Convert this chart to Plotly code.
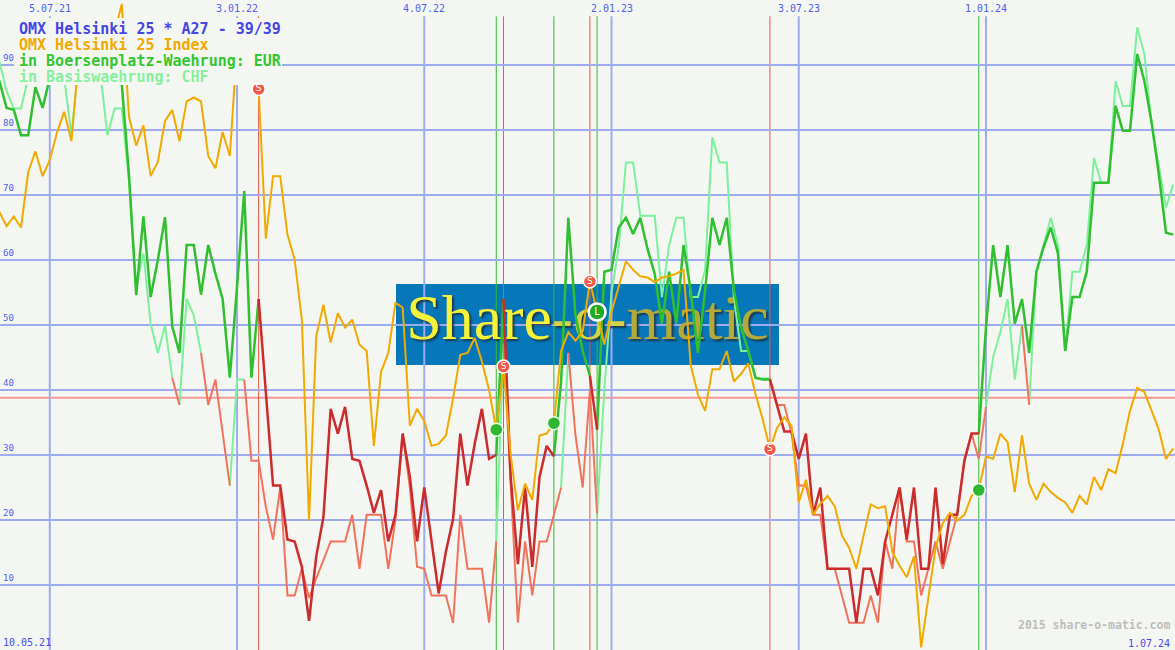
import pandas as pd
import plotly.graph_objects as go

# ---------------- data (weekly, first point 10.05.21) ----------------
START = "2021-05-10"
N_WEEKS = 165

ORANGE = [69, 67.4, 65.2, 66.7, 65.0, 73.5, 76.7, 72.9, 75.4, 79.6,
          82.8, 78.3, 91, 90, 92, 90, 93, 95, 99.4, 82,
          77.6, 80.7, 72.9, 75.1, 81.4, 83.1, 78.3, 84.4, 85, 84.4,
          76, 74.1, 79.7, 76, 93, 90, 88, 86.3, 63.3, 72.9,
          72.9, 63.9, 60.1, 50.8, 19.9, 48.3, 53.1, 47.3, 51.8, 49.6,
          50.8, 47.0, 46.0, 31.4, 42.8, 45.7, 53.4, 52.7, 34.5, 37.1,
          35.2, 31.4, 31.7, 33, 38.7, 45.4, 45.7, 48, 44.4, 40,
          33.9, 43.6, 30, 21.5, 25.6, 23.1, 33, 33.3, 34.9, 46,
          48.9, 47.6, 49, 56.7, 52, 47, 52, 56, 59.8, 58.5,
          57.5, 57.3, 56.6, 57.3, 57.5, 57.9, 58.5, 43.8, 39.3, 36.8,
          43.2, 43.2, 46, 41.3, 42.5, 44.1, 39.3, 35.5, 30.9, 34.2,
          35.8, 34.5, 22.7, 26.2, 20.8, 22.5, 23.7, 22.1, 17.6, 15.7,
          12.5, 17.6, 22.4, 21.8, 22.1, 15.1, 13, 11.2, 14.4, 0.4,
          8, 15.7, 19.5, 21.1, 19.9, 20.8, 23.7, 24.6, 29.8, 29.4,
          33.3, 32, 24.3, 33, 25.6, 23.1, 25.6, 24.3, 23.4, 22.7,
          21.1, 23.7, 22.4, 26.6, 24.6, 27.8, 27.2, 31.7, 36.8, 40.3,
          39.7, 36.8, 33.9, 29.4, 31]

EUR = [90, 87.5, 83.4, 83.1, 79.2, 79.2, 86.6, 83.4, 88, 91,
       89, 92, 90, 93, 91, 89, 92, 90, 87, 73,
       54.6, 66.7, 54.3, 60, 66.6, 49.8, 45.7, 62.3, 62.3, 54.7,
       62.3, 57.9, 54, 41.9, 55.9, 70.6, 41.9, 54, 40, 25.3,
       25.3, 17, 16.7, 12.8, 4.5, 14.4, 20.5, 37.1, 33.3, 37.4,
       29.4, 29.1, 25.3, 21.1, 24.6, 16.7, 20.8, 33.3, 26.6, 16.7,
       25, 16.7, 8.7, 15.1, 20.2, 33.3, 25.3, 31.7, 37.1, 29.4,
       30, 54, 26.6, 13.2, 25, 12.8, 26.6, 31.4, 29.8, 41.3,
       66.5, 51.5, 46, 42.2, 33.9, 58.2, 58.5, 65, 66.5, 64,
       66.5, 61.7, 57.9, 50.2, 58.2, 50.2, 62.3, 55.3, 45.7, 55.3,
       66.5, 62.3, 66.5, 55.3, 49.6, 46, 41.9, 41.6, 41.6, 37.7,
       33.6, 33.6, 29.4, 33.3, 20.8, 25, 12.5, 12.5, 12.5, 12.5,
       4.2, 12.5, 12.5, 8.4, 16.7, 20.8, 25, 17, 25, 12.5,
       12.5, 25, 13.2, 20.8, 20.8, 29.1, 33.3, 33.3, 49.6, 62.3,
       54.3, 62.3, 50.2, 54, 45.7, 58.2, 62, 65, 61, 46,
       54.3, 54.3, 58.2, 71.9, 71.9, 71.9, 83.7, 79.9, 79.9, 91.7,
       87.5, 81.2, 73.2, 64.2, 63.9]

CHF = [95, 90.4, 86, 83.3, 83.3, 88, 91, 92, 90, 91,
       88, 79.2, 90, 92, 91, 89, 79.2, 83.3, 83.3, 72,
       56, 61, 50.2, 45.7, 49.9, 41.9, 37.7, 54, 51.5, 45.7,
       37.7, 41.6, 33, 25.3, 41.6, 41.6, 29.1, 29.1, 22, 17,
       25, 8.4, 8.4, 12.5, 8, 11, 14, 16.7, 16.7, 16.7,
       20.8, 12.5, 20.8, 20.8, 20.8, 12.5, 20, 33.3, 25, 12.8,
       12.5, 8.4, 8.4, 8.4, 4.2, 20.8, 12.5, 12.5, 12.5, 4.2,
       16.7, 47, 25, 4.2, 16.7, 8.4, 16.7, 16.7, 20.8, 25,
       45.7, 33, 25, 40, 21, 40, 55, 62, 75, 75,
       66.8, 66.8, 66.8, 54.3, 62.3, 66.5, 66.5, 54.3, 54.3, 58.5,
       78.9, 75, 75, 54, 46, 46, 41.8, 41.8, 41.8, 37.7,
       37.7, 33.3, 25.3, 25.3, 20.8, 20.8, 12.5, 12.5, 8.4, 4.2,
       4.2, 4.2, 8.4, 4.2, 16.7, 12.5, 25, 16.7, 16.7, 8.4,
       12.5, 16.7, 12.5, 16.7, 20.8, 29.1, 33.3, 29.4, 37.4, 45.1,
       48.9, 54, 41.6, 49.9, 37.7, 58.2, 62.3, 66.5, 62.3, 46,
       58.2, 58.2, 62.3, 75.7, 71.9, 71.9, 87.5, 83.7, 83.7, 95.8,
       91.7, 80.8, 74.5, 68.1, 71.6]

# short (red) periods as week-index intervals [a, b): segment i->i+1 red if a <= i < b
EUR_SHORT = [(37, 70), (71, 78), (83, 84), (108, 137)]
CHF_SHORT = [(25, 26), (29, 33), (35, 70), (71, 79), (80, 84), (108, 138), (143, 144)]

# signals (week index)
SELL_IDX = [37, 71, 83, 108]
BUY_IDX = [70, 78, 137]
BUY_CHF_IDX = [84]

THRESHOLD = 38.8

GRID_DATES = ["2021-07-05", "2022-01-03", "2022-07-04", "2023-01-02", "2023-07-03", "2024-01-01"]
GRID_LABELS = ["5.07.21", "3.01.22", "4.07.22", "2.01.23", "3.07.23", "1.01.24"]
Y_TICKS = [10, 20, 30, 40, 50, 60, 70, 80, 90]
X_RANGE = ["2021-05-17 14:00", "2024-07-02 18:00"]

LEGEND_LINES = ["OMX Helsinki 25 * A27 - 39/39", "OMX Helsinki 25 Index",
                "in Boersenplatz-Waehrung: EUR", "in Basiswaehrung: CHF"]

# ---------------- styling ----------------
BG = "#f4f6f2"
GRID = "#9fabf0"
C_BLUE = "#4646e6"
C_ORANGE = "#f2a900"
C_GREEN = "#2fbf2f"
C_DRED = "#cc2b2b"
C_LGREEN = "#7cf09a"
C_SALMON = "#f2735c"
C_SIG_RED = "#ee5544"
C_SIG_GREEN = "#33bb33"
MONO = "DejaVu Sans Mono"

dates = list(pd.date_range(START, periods=N_WEEKS, freq="7D"))


def split_runs(vals, short):
    red = [any(a <= i < b for a, b in short) for i in range(len(vals) - 1)]
    out = {True: ([], []), False: ([], [])}
    i = 0
    while i < len(vals) - 1:
        c = red[i]
        j = i
        while j < len(vals) - 1 and red[j] == c:
            j += 1
        xs, ys = out[c]
        if xs:
            xs.append(None)
            ys.append(None)
        xs.extend(dates[i:j + 1])
        ys.extend(vals[i:j + 1])
        i = j
    return out


fig = go.Figure()

# watermark text (drawn first -> under the lines)
wm_x = pd.Timestamp("2021-07-05") + pd.Timedelta(days=(587.5 - 50) / 7.2 * 7)
fig.add_trace(go.Scatter(
    x=[wm_x], y=[50.3], mode="text",
    text=['<span style="color:#f6f23a">Share</span><span style="color:#d8d048">-o-</span>'
          '<span style="color:#b4aa3c">matic</span>'],
    textfont=dict(family="Liberation Serif", size=64, color="#e8e040",
                  shadow="2px 2px 2px #1a3a50"),
    hoverinfo="skip", showlegend=False))

chf = split_runs(CHF, CHF_SHORT)
eur = split_runs(EUR, EUR_SHORT)

fig.add_trace(go.Scatter(x=chf[False][0], y=chf[False][1], mode="lines",
                         line=dict(color=C_LGREEN, width=2), showlegend=False))
fig.add_trace(go.Scatter(x=chf[True][0], y=chf[True][1], mode="lines",
                         line=dict(color=C_SALMON, width=2), showlegend=False))
fig.add_trace(go.Scatter(x=eur[False][0], y=eur[False][1], mode="lines",
                         line=dict(color=C_GREEN, width=2.5), showlegend=False))
fig.add_trace(go.Scatter(x=eur[True][0], y=eur[True][1], mode="lines",
                         line=dict(color=C_DRED, width=2.5), showlegend=False))
fig.add_trace(go.Scatter(x=dates, y=ORANGE, mode="lines",
                         line=dict(color=C_ORANGE, width=2), showlegend=False))

# signal markers on the index line
fig.add_trace(go.Scatter(
    x=[dates[i] for i in SELL_IDX], y=[ORANGE[i] for i in SELL_IDX],
    mode="markers+text", text=["S"] * len(SELL_IDX), textposition="middle center",
    textfont=dict(color="white", size=9, family="DejaVu Sans"),
    marker=dict(size=13, color="#f05a48", line=dict(color="white", width=1.5)),
    showlegend=False))
fig.add_trace(go.Scatter(
    x=[dates[i] for i in BUY_IDX], y=[ORANGE[i] for i in BUY_IDX],
    mode="markers", marker=dict(size=13, color="#2fb52f", line=dict(color="#e8ffe8", width=1.5)),
    showlegend=False))
fig.add_trace(go.Scatter(
    x=[dates[i] for i in BUY_CHF_IDX], y=[ORANGE[i] for i in BUY_CHF_IDX],
    mode="markers+text", text=["L"], textposition="middle center",
    textfont=dict(color="white", size=10, family="DejaVu Sans"),
    marker=dict(size=17, color="#22aa22", line=dict(color="white", width=2.5)),
    showlegend=False))

shapes = []
# watermark box (below grid)
shapes.append(dict(type="rect", xref="paper", yref="paper",
                   x0=396 / 1175, x1=779 / 1175, y0=(650 - 365) / 650, y1=(650 - 284) / 650,
                   fillcolor="#0677b9", line=dict(width=0), layer="below"))
# vertical grid lines
for d in GRID_DATES:
    shapes.append(dict(type="line", xref="x", yref="y", x0=d, x1=d, y0=0, y1=97.5,
                       line=dict(color=GRID, width=2), layer="below"))
# threshold line
shapes.append(dict(type="line", xref="paper", yref="y", x0=0, x1=1, y0=THRESHOLD, y1=THRESHOLD,
                   line=dict(color="#f29a98", width=2), layer="below"))
# signal vertical lines
for i in SELL_IDX:
    shapes.append(dict(type="line", xref="x", yref="y", x0=dates[i], x1=dates[i], y0=0, y1=97.5,
                       line=dict(color=C_SIG_RED, width=1), layer="below"))
for i in BUY_IDX + BUY_CHF_IDX:
    shapes.append(dict(type="line", xref="x", yref="y", x0=dates[i], x1=dates[i], y0=0, y1=97.5,
                       line=dict(color=C_SIG_GREEN, width=1), layer="below"))
# legend box (covers lines)
shapes.append(dict(type="rect", xref="paper", yref="paper",
                   x0=14 / 1175, x1=282 / 1175, y0=(650 - 85) / 650, y1=(650 - 18) / 650,
                   fillcolor=BG, line=dict(width=0), layer="above"))

annotations = []
legend_colors = [C_BLUE, C_ORANGE, "#33c633", "#86f09e"]
for n, (txt, col) in enumerate(zip(LEGEND_LINES, legend_colors)):
    annotations.append(dict(xref="paper", yref="paper", x=17 / 1175, y=(650 - (29 + 16 * n)) / 650,
                            xanchor="left", yanchor="middle", text="<b>" + txt + "</b>",
                            showarrow=False, font=dict(family=MONO, size=15, color=col)))
for d, lab in zip(GRID_DATES, GRID_LABELS):
    annotations.append(dict(xref="x", yref="paper", x=d, y=(650 - 9) / 650,
                            xanchor="center", yanchor="middle", text=lab, showarrow=False,
                            font=dict(family=MONO, size=10, color="#5060ee")))
for v in Y_TICKS:
    annotations.append(dict(xref="paper", yref="y", x=1 / 1175, y=v, yshift=7,
                            xanchor="left", yanchor="middle", text=str(v), showarrow=False,
                            font=dict(family=MONO, size=9, color="#5060ee")))
annotations.append(dict(xref="paper", yref="paper", x=1 / 1175, y=(650 - 642) / 650,
                        xanchor="left", yanchor="middle", text="10.05.21", showarrow=False,
                        font=dict(family=MONO, size=10, color="#4a4aee")))
annotations.append(dict(xref="paper", yref="paper", x=1172 / 1175, y=(650 - 643) / 650,
                        xanchor="right", yanchor="middle", text="1.07.24", showarrow=False,
                        font=dict(family=MONO, size=10, color="#4a4aee")))
annotations.append(dict(xref="paper", yref="paper", x=1172 / 1175, y=(650 - 625) / 650,
                        xanchor="right", yanchor="middle", text="<b>2015 share-o-matic.com</b>",
                        showarrow=False, font=dict(family=MONO, size=11.5, color="#bdbdbd")))

fig.update_layout(
    width=1175, height=650,
    margin=dict(l=0, r=0, t=0, b=0),
    paper_bgcolor=BG, plot_bgcolor=BG,
    showlegend=False,
    xaxis=dict(type="date", range=X_RANGE, showgrid=False, zeroline=False,
               showticklabels=False, ticks="", showline=False, fixedrange=True),
    yaxis=dict(range=[0, 100], tickvals=Y_TICKS, showticklabels=False, ticks="",
               gridcolor=GRID, gridwidth=2, zeroline=False, showline=False, fixedrange=True),
    shapes=shapes, annotations=annotations,
    hovermode=False,
)

fig.write_html(
    "out.html",
    config={"displayModeBar": False, "staticPlot": True},
    post_script="document.body.style.margin='0';document.body.style.padding='0';"
                "document.body.style.overflow='hidden';"
                "document.documentElement.style.background='" + BG + "';",
)
